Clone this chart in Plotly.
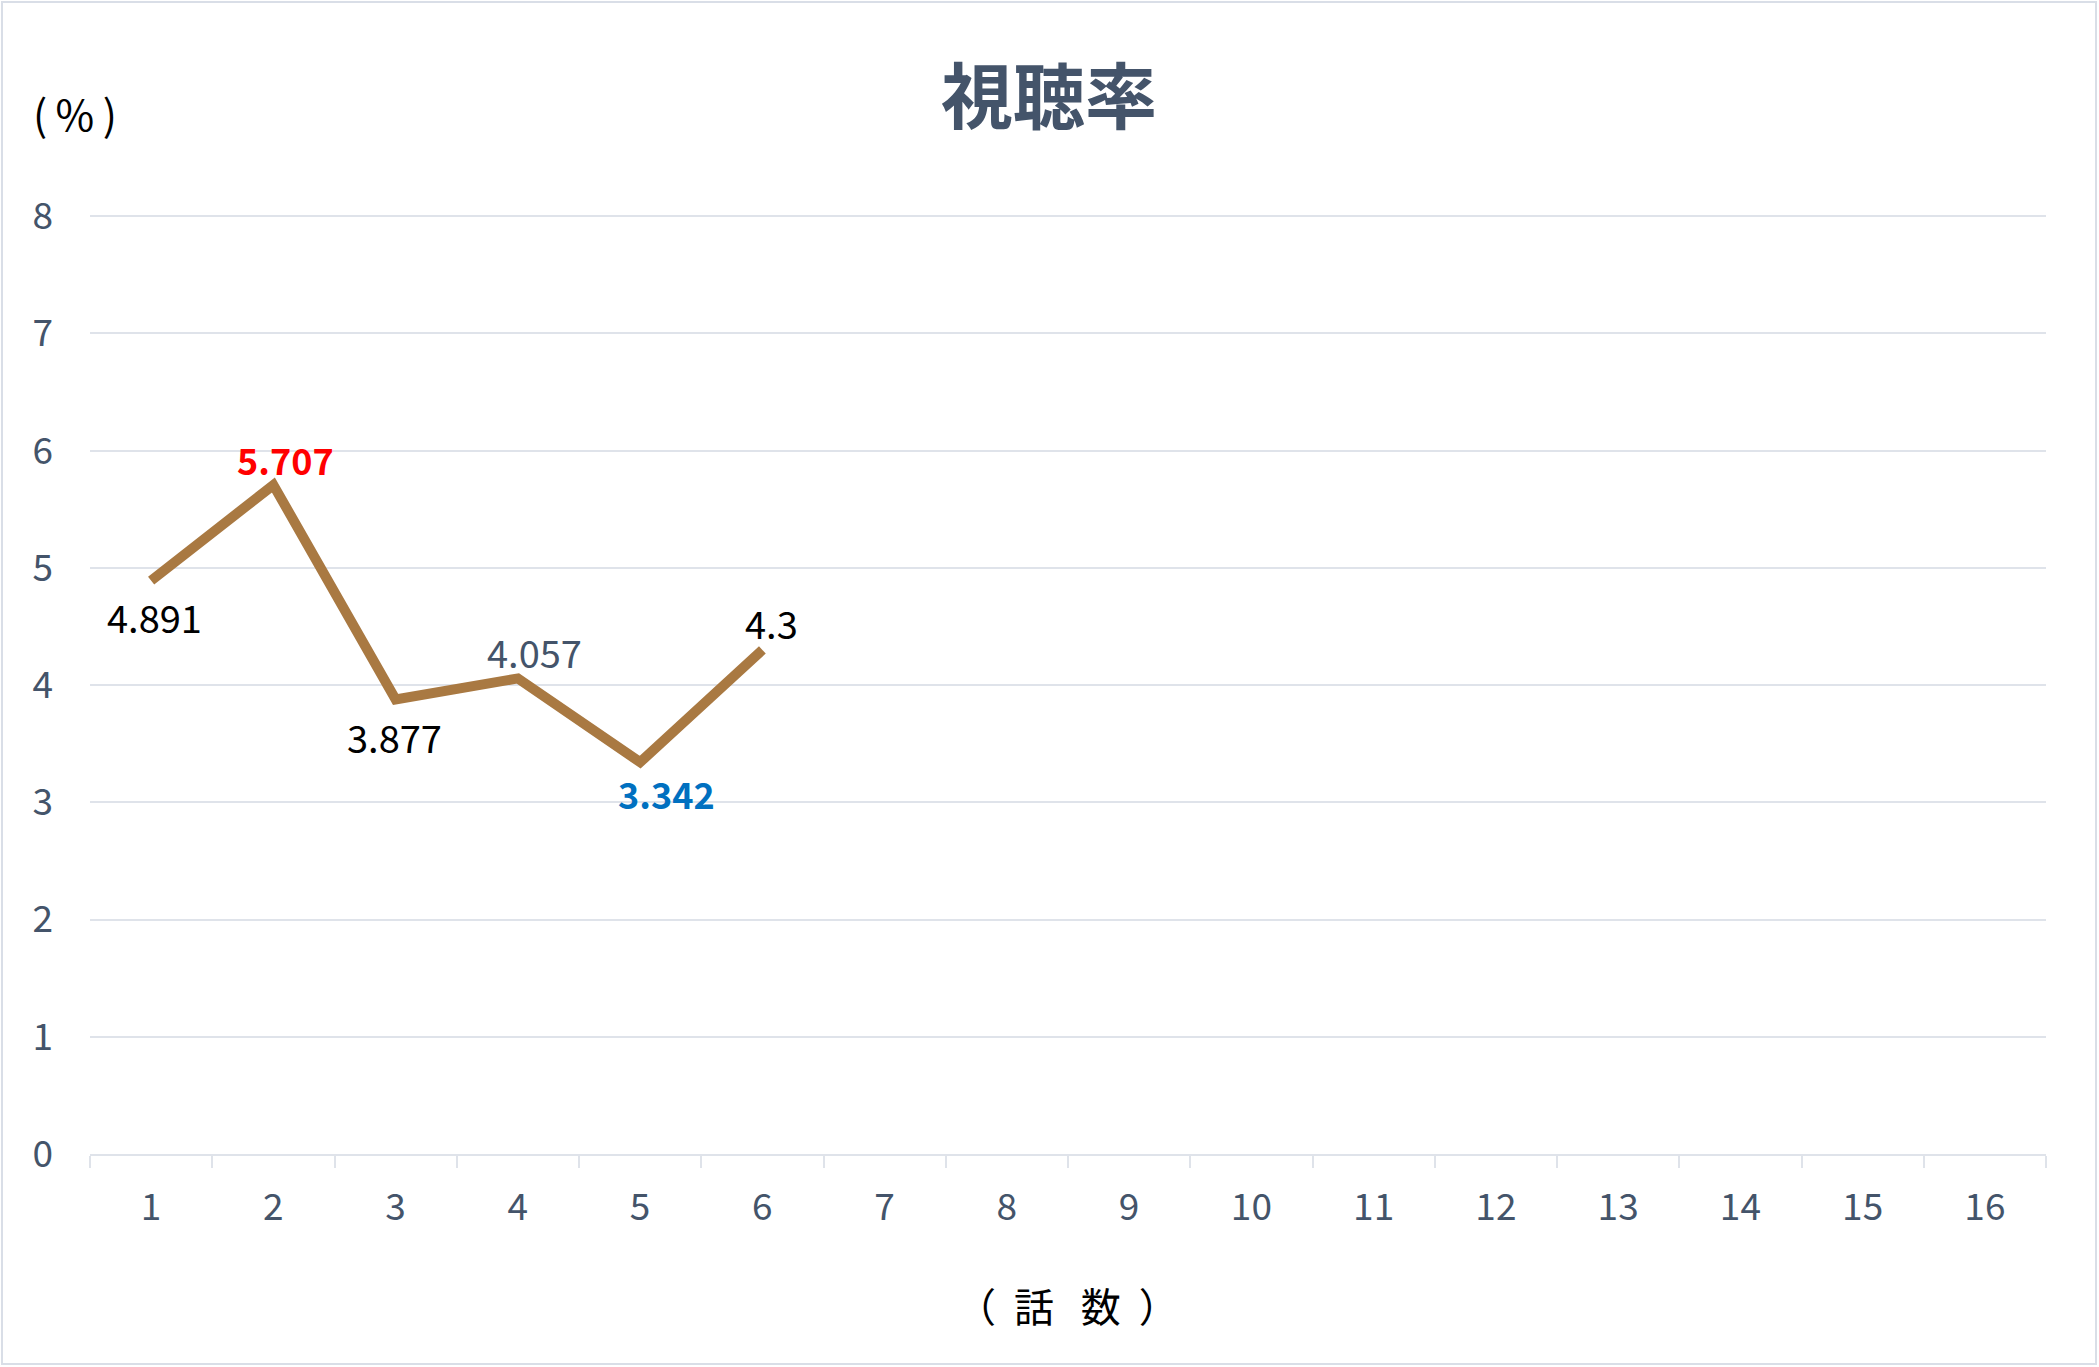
import plotly.graph_objects as go

# ---- data ----
episodes = [str(i) for i in range(1, 17)]
rating_eps = ["1", "2", "3", "4", "5", "6"]
ratings = [4.891, 5.707, 3.877, 4.057, 3.342, 4.3]
label_texts = ["4.891", "5.707", "3.877", "4.057", "3.342", "4.3"]
y_ticks = [0, 1, 2, 3, 4, 5, 6, 7, 8]

title_text = "視聴率"
x_title = "（\u00a0\u00a0話\u00a0\u00a0\u00a0数\u00a0\u00a0）"
y_unit = "(\u2009%\u2009)"

# ---- styles ----
W, H = 2099, 1367
ML, MR, MT, MB = 90, 53, 215, 213
FONT = "Noto Sans CJK JP"
SLATE = "#44546a"
GRID = "#dfe3ea"
LINE = "#a97942"

label_styles = [
    dict(color="#000000", bold=False, size=38, yshift=-36, xshift=3),
    dict(color="#ff0000", bold=True, size=36, yshift=26, xshift=12),
    dict(color="#000000", bold=False, size=38, yshift=-37, xshift=-1),
    dict(color="#44546a", bold=False, size=38, yshift=27, xshift=17),
    dict(color="#0070c0", bold=True, size=36, yshift=-31, xshift=26),
    dict(color="#000000", bold=False, size=38, yshift=27, xshift=9),
]

fig = go.Figure()

# invisible full-category trace to establish all 16 categories
fig.add_trace(go.Scatter(x=episodes, y=[None] * len(episodes), mode="lines",
                         showlegend=False, hoverinfo="skip"))
fig.add_trace(go.Scatter(
    x=rating_eps, y=ratings, mode="lines",
    line=dict(color=LINE, width=10),
    showlegend=False,
))

annotations = []
for xe, yv, txt, st in zip(rating_eps, ratings, label_texts, label_styles):
    t = f"<b>{txt}</b>" if st["bold"] else txt
    annotations.append(dict(
        x=episodes.index(xe), y=yv, xref="x", yref="y", text=t, showarrow=False,
        xshift=st["xshift"], yshift=st["yshift"],
        font=dict(family=FONT, size=st["size"], color=st["color"]),
    ))

pw = W - ML - MR
ph = H - MT - MB
annotations.append(dict(
    x=(75 - ML) / pw, y=1 + 103 / ph, xref="paper", yref="paper",
    text=y_unit, showarrow=False, xanchor="center", yanchor="middle",
    font=dict(family=FONT, size=42, color="#000000"),
))
annotations.append(dict(
    x=(1067 - ML) / pw, y=-(1305 - (H - MB)) / ph, xref="paper", yref="paper",
    text=x_title, showarrow=False, xanchor="center", yanchor="middle",
    font=dict(family=FONT, size=40, color="#000000"),
))

fig.update_layout(
    width=W, height=H,
    margin=dict(l=ML, r=MR, t=MT, b=MB),
    paper_bgcolor="white", plot_bgcolor="white",
    title=dict(text=f"<b>{title_text}</b>", x=(1049) / W, xanchor="center",
               y=1 - 98 / H, yanchor="middle",
               font=dict(family=FONT, size=72, color=SLATE)),
    annotations=annotations,
    shapes=[dict(type="rect", xref="paper", yref="paper",
                 x0=-(ML - 2) / pw, x1=1 + (MR - 3) / pw,
                 y0=-(MB - 3) / ph, y1=1 + (MT - 2) / ph,
                 line=dict(color="#d9dee7", width=2), fillcolor="rgba(0,0,0,0)",
                 layer="below")],
    xaxis=dict(
        type="category", categoryorder="array", categoryarray=episodes,
        range=[-0.5, len(episodes) - 0.5],
        tickson="boundaries", ticks="outside", ticklen=12, tickwidth=2,
        tickcolor=GRID, showline=True, linecolor=GRID, linewidth=2,
        showgrid=False, zeroline=False,
        tickfont=dict(family=FONT, size=37, color=SLATE),
        ticklabelstandoff=20,
    ),
    yaxis=dict(
        range=[0, 8.01], tickvals=y_ticks, showgrid=True, gridcolor=GRID,
        gridwidth=2, zeroline=False, showline=False, ticks="",
        tickfont=dict(family=FONT, size=37, color=SLATE),
        ticklabelstandoff=36,
    ),
    font=dict(family=FONT),
)

fig.write_html("out.html")
